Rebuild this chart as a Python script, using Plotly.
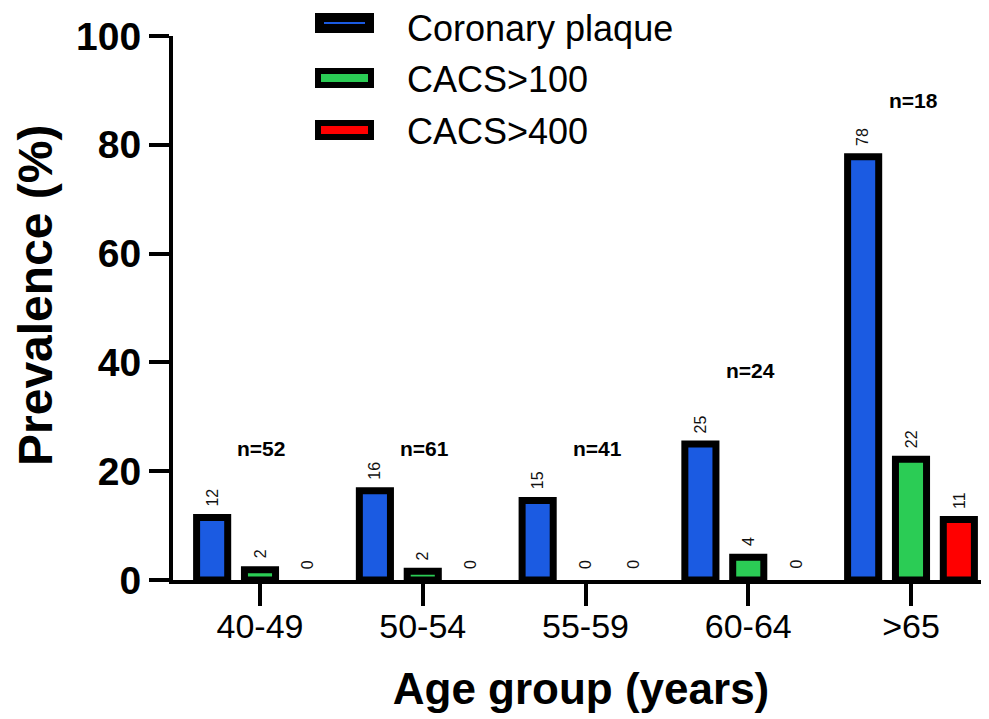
import plotly.graph_objects as go

# ---- data ----
age_groups = ["40-49", "50-54", "55-59", "60-64", ">65"]
n_labels = ["n=52", "n=61", "n=41", "n=24", "n=18"]
series_names = ["Coronary plaque", "CACS>100", "CACS>400"]
coronary_plaque = [11.5, 16.4, 14.6, 25.0, 77.8]
cacs_100 = [1.9, 1.6, 0, 4.2, 22.2]
cacs_400 = [0, 0, 0, 0, 11.1]
coronary_text = ["12", "16", "15", "25", "78"]
cacs_100_text = ["2", "2", "0", "4", "22"]
cacs_400_text = ["0", "0", "0", "0", "11"]
y_ticks = [0, 20, 40, 60, 80, 100]

# ---- style ----
FONT = "Liberation Sans, Arial, Helvetica, sans-serif"
colors = ["#1b5be2", "#2bcc55", "#ff0000"]
n_label_y = [24.1, 24.1, 24.1, 38.6, 88.2]
n_label_xshift = [1, 2, 12, 2, 2]

OFF = 8  # page body margin
W, H = 981, 711
ML, MR, MT, MB = 165, 0, 28, 139
PW, PH = W - ML - MR, H - MT - MB

def px2paper_x(px):
    return (px - OFF - ML) / PW

def px2paper_y(py):
    return (H - MB - (py - OFF)) / PH

BARGAP = 0.118
cat_px = 162.75
x_lo = -(260 - OFF - ML) / cat_px
x_hi = x_lo + PW / cat_px
slot_px = cat_px * (1 - BARGAP) / 3

fig = go.Figure()
series_vals = [coronary_plaque, cacs_100, cacs_400]
series_txt = [coronary_text, cacs_100_text, cacs_400_text]
for i, (name, vals, txt, col) in enumerate(zip(series_names, series_vals, series_txt, colors)):
    fig.add_trace(go.Bar(
        x=age_groups, y=vals, name=name,
        marker=dict(color=col,
                    line=dict(color="black", width=[7 if v > 0 else 0 for v in vals])),
        showlegend=False, hoverinfo="x+y+name",
    ))
    for g, v, t in zip(age_groups, vals, txt):
        fig.add_annotation(x=g, y=v, text=t, showarrow=False, textangle=-90,
                           xshift=(i - 1) * slot_px, yshift=9,
                           xanchor="center", yanchor="bottom",
                           font=dict(family=FONT, size=16, color="#111"))

# n= annotations
for g, lab, yy, xs in zip(age_groups, n_labels, n_label_y, n_label_xshift):
    fig.add_annotation(x=g, y=yy, text="<b>%s</b>" % lab, showarrow=False,
                       xshift=xs, font=dict(family=FONT, size=21, color="black"),
                       xanchor="center", yanchor="middle")

# manual legend
leg_rows = [23, 78, 130]
leg_text_rows = [28, 79, 131]
leg_lw = [9, 6, 6]
for name, col, cy, ty, lw in zip(series_names, colors, leg_rows, leg_text_rows, leg_lw):
    half_h = 10 - lw / 2
    fig.add_shape(type="rect", xref="paper", yref="paper",
                  x0=px2paper_x(315 + lw / 2), x1=px2paper_x(374 - lw / 2),
                  y0=px2paper_y(cy - half_h), y1=px2paper_y(cy + half_h),
                  fillcolor=col, line=dict(color="black", width=lw), layer="above")
    fig.add_annotation(xref="paper", yref="paper",
                       x=px2paper_x(405), y=px2paper_y(ty),
                       text=name, showarrow=False, xanchor="left", yanchor="middle",
                       font=dict(family=FONT, size=36, color="black"))

# y-axis title (placed to match the reference position)
fig.add_annotation(xref="paper", yref="paper",
                   x=px2paper_x(35), y=px2paper_y(295),
                   text="<b>Prevalence (%)</b>", showarrow=False, textangle=-90,
                   xanchor="center", yanchor="middle",
                   font=dict(family=FONT, size=48, color="black"))

fig.update_layout(
    width=W, height=H,
    margin=dict(l=ML, r=MR, t=MT, b=MB),
    paper_bgcolor="white", plot_bgcolor="white",
    barmode="group", bargap=BARGAP, bargroupgap=0.35,
    font=dict(family=FONT, color="black"),
    xaxis=dict(
        range=[x_lo, x_hi], showgrid=False, zeroline=False,
        showline=True, linecolor="black", linewidth=4,
        ticks="outside", ticklen=22, tickwidth=4, tickcolor="black",
        ticklabelstandoff=-9,
        tickfont=dict(family=FONT, size=34, color="black"),
        title=dict(text="<b>Age group (years)</b>", standoff=30,
                   font=dict(family=FONT, size=44, color="black")),
    ),
    yaxis=dict(
        range=[0, 100], tickvals=y_ticks, showgrid=False, zeroline=False,
        showline=True, linecolor="black", linewidth=4,
        ticks="outside", ticklen=20, tickwidth=4, tickcolor="black",
        tickfont=dict(family=FONT, size=39, color="black", weight="bold"),
    ),
)

fig.write_html("out.html")
